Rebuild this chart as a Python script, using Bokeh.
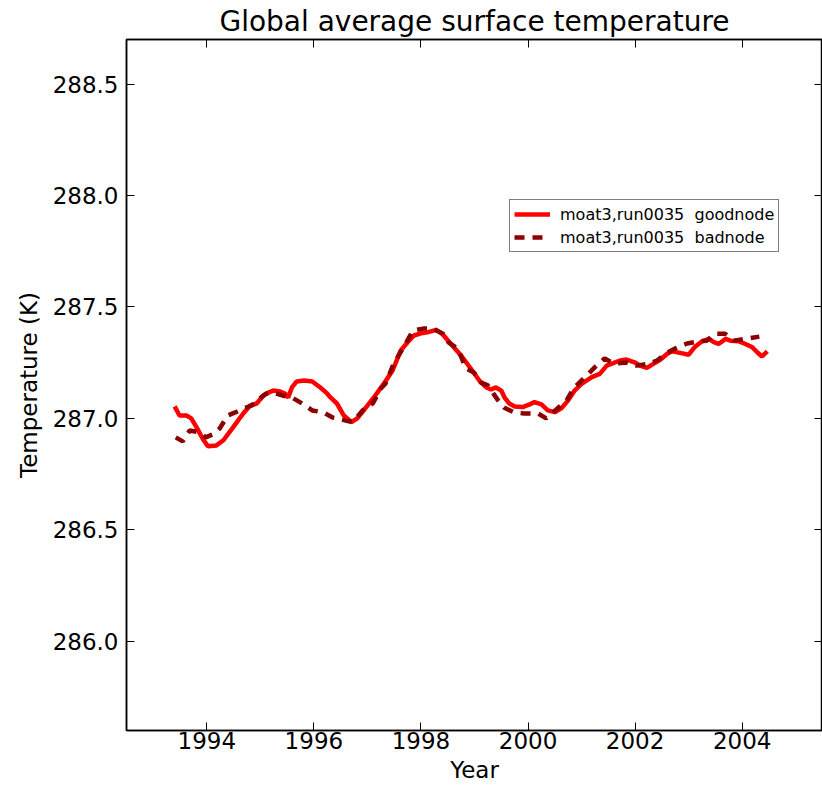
from bokeh.plotting import figure
from bokeh.models import (Range1d, FixedTicker, PrintfTickFormatter, LinearAxis,
                          CustomJSTickFormatter)
from bokeh.embed import file_html
from bokeh.resources import INLINE

# Global mean surface temperature, two model runs (year, kelvin)
good_year = [1993.40, 1993.49, 1993.62, 1993.71, 1993.81, 1993.92, 1994.02, 1994.18,
             1994.31, 1994.49, 1994.68, 1994.81, 1994.93, 1995.06, 1995.15, 1995.24,
             1995.37, 1995.46, 1995.52, 1995.59, 1995.68, 1995.82, 1995.97, 1996.12,
             1996.23, 1996.31, 1996.43, 1996.56, 1996.70, 1996.81, 1996.93, 1997.12,
             1997.31, 1997.47, 1997.62, 1997.75, 1997.87, 1998.00, 1998.12, 1998.28,
             1998.40, 1998.56, 1998.75, 1998.93, 1999.09, 1999.22, 1999.31, 1999.40,
             1999.50, 1999.56, 1999.65, 1999.75, 1999.90, 2000.03, 2000.12, 2000.25,
             2000.37, 2000.50, 2000.62, 2000.75, 2000.87, 2001.00, 2001.19, 2001.34,
             2001.47, 2001.59, 2001.72, 2001.84, 2001.99, 2002.09, 2002.22, 2002.34,
             2002.47, 2002.60, 2002.69, 2002.84, 2003.00, 2003.12, 2003.25, 2003.38,
             2003.47, 2003.56, 2003.69, 2003.78, 2003.94, 2004.06, 2004.19, 2004.28,
             2004.37, 2004.47]
good_temp = [287.054, 287.013, 287.013, 287.000, 286.960, 286.910, 286.875, 286.879,
             286.902, 286.960, 287.022, 287.058, 287.067, 287.103, 287.116, 287.125,
             287.121, 287.112, 287.094, 287.139, 287.166, 287.170, 287.166, 287.139,
             287.116, 287.094, 287.067, 287.013, 286.983, 287.000, 287.036, 287.094,
             287.157, 287.215, 287.304, 287.342, 287.372, 287.382, 287.386, 287.397,
             287.379, 287.334, 287.282, 287.224, 287.170, 287.139, 287.130, 287.139,
             287.125, 287.095, 287.067, 287.054, 287.051, 287.063, 287.073, 287.063,
             287.036, 287.028, 287.045, 287.081, 287.125, 287.155, 287.185, 287.200,
             287.237, 287.248, 287.260, 287.264, 287.252, 287.237, 287.227, 287.245,
             287.263, 287.290, 287.301, 287.294, 287.286, 287.322, 287.346, 287.357,
             287.342, 287.334, 287.357, 287.349, 287.346, 287.334, 287.319, 287.297,
             287.278, 287.301]

bad_year = [1993.42, 1993.55, 1993.68, 1993.87, 1993.98, 1994.11, 1994.24, 1994.39,
            1994.53, 1994.69, 1994.84, 1995.03, 1995.11, 1995.24, 1995.41, 1995.59,
            1995.78, 1995.97, 1996.18, 1996.35, 1996.50, 1996.65, 1996.74, 1996.91,
            1997.10, 1997.25, 1997.34, 1997.49, 1997.66, 1997.85, 1998.04, 1998.22,
            1998.41, 1998.52, 1998.69, 1998.84, 1998.99, 1999.12, 1999.25, 1999.44,
            1999.55, 1999.74, 1999.93, 2000.19, 2000.34, 2000.57, 2000.72, 2000.85,
            2000.96, 2001.13, 2001.24, 2001.43, 2001.60, 2001.84, 2002.03, 2002.27,
            2002.41, 2002.60, 2002.74, 2002.97, 2003.16, 2003.34, 2003.49, 2003.68,
            2003.85, 2004.09, 2004.32]
bad_temp = [286.915, 286.897, 286.946, 286.937, 286.915, 286.928, 286.955, 287.013,
            287.027, 287.045, 287.058, 287.098, 287.112, 287.116, 287.103, 287.094,
            287.067, 287.036, 287.027, 287.004, 286.996, 286.987, 286.987, 287.036,
            287.067, 287.134, 287.157, 287.246, 287.313, 287.394, 287.403, 287.403,
            287.380, 287.340, 287.313, 287.224, 287.206, 287.161, 287.148, 287.081,
            287.049, 287.027, 287.022, 287.022, 287.000, 287.049, 287.081, 287.134,
            287.161, 287.201, 287.228, 287.269, 287.246, 287.251, 287.237, 287.246,
            287.260, 287.295, 287.313, 287.336, 287.345, 287.349, 287.380, 287.380,
            287.349, 287.358, 287.367]

x_ticks = [1994, 1996, 1998, 2000, 2002, 2004]
y_ticks = [286.0, 286.5, 287.0, 287.5, 288.0, 288.5]

FONT = "DejaVu Sans"

p = figure(width=822, height=785, output_backend="svg", toolbar_location=None,
           x_range=Range1d(1992.5, 2005.5), y_range=Range1d(285.6, 288.7),
           title="Global average surface temperature",
           min_border_left=126, min_border_right=0, min_border_top=0,
           min_border_bottom=0)

p.background_fill_color = "white"
p.border_fill_color = "white"
p.outline_line_color = "black"
p.outline_line_width = 1.5
p.grid.visible = False

p.title.align = "center"
p.title.text_font = FONT
p.title.text_font_size = "28px"
p.title.text_font_style = "normal"
p.title.text_color = "black"
p.title.standoff = 4
p.title.offset = 0

p.line(good_year, good_temp, line_color="#ff0000", line_width=4.5,
       legend_label="moat3,run0035  goodnode")
p.line(bad_year, bad_temp, line_color="#8b0000", line_width=4.5,
       line_dash="10 8", legend_label="moat3,run0035  badnode")


def style_axis(ax, show_labels):
    ax.axis_line_color = "black"
    ax.axis_line_width = 1.5
    ax.major_tick_in = 8
    ax.major_tick_out = 0
    ax.major_tick_line_color = "black"
    ax.major_tick_line_width = 1
    ax.minor_tick_line_color = None
    ax.major_label_text_font = FONT
    ax.major_label_text_color = "black"
    ax.axis_label_text_font = FONT
    ax.axis_label_text_font_style = "normal"
    ax.axis_label_text_color = "black"
    if show_labels:
        ax.major_label_text_font_size = "23px"
        ax.axis_label_text_font_size = "23px"
    else:
        # tick marks only on the top and right edges of the frame
        ax.formatter = CustomJSTickFormatter(code="return '';")
        ax.major_label_standoff = 0


xa = p.xaxis[0]
xa.ticker = FixedTicker(ticks=x_ticks)
xa.formatter = PrintfTickFormatter(format="%d")
xa.axis_label = "Year"
style_axis(xa, True)
xa.major_label_standoff = 1
xa.axis_label_standoff = 5

ya = p.yaxis[0]
ya.ticker = FixedTicker(ticks=y_ticks)
ya.formatter = PrintfTickFormatter(format="%.1f")
ya.axis_label = "Temperature (K)"
style_axis(ya, True)
ya.major_label_standoff = 8
ya.axis_label_standoff = 8

top = LinearAxis(ticker=FixedTicker(ticks=x_ticks))
style_axis(top, False)
p.add_layout(top, "above")

right = LinearAxis(ticker=FixedTicker(ticks=y_ticks))
style_axis(right, False)
p.add_layout(right, "right")

lg = p.legend[0]
lg.location = (383, 478)
lg.label_text_font = FONT
lg.label_text_font_size = "16px"
lg.label_text_color = "black"
lg.glyph_width = 36
lg.glyph_height = 20
lg.label_height = 20
lg.label_standoff = 10
lg.padding = 4
lg.spacing = 3
lg.margin = 0
lg.border_line_color = "black"
lg.border_line_width = 1.5
lg.background_fill_color = "white"
lg.background_fill_alpha = 1.0

open("out.html", "w").write(file_html(p, INLINE))
